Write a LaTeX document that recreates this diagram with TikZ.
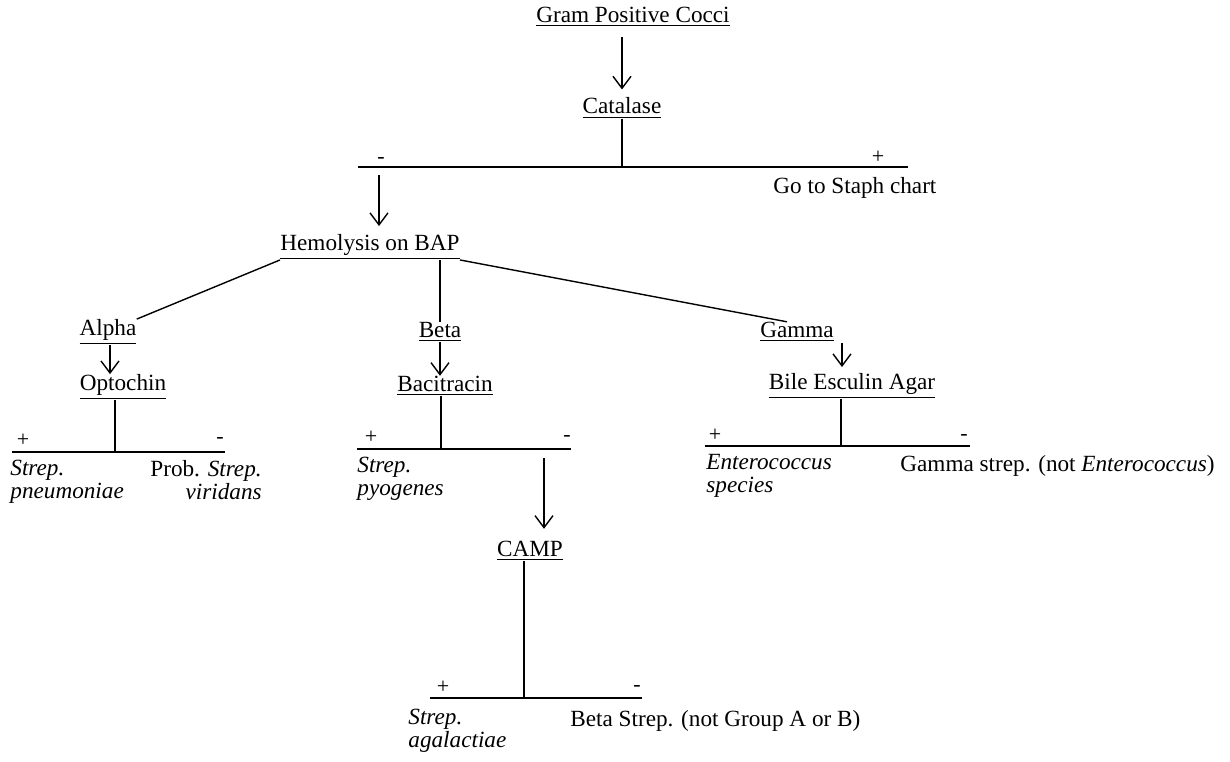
\documentclass[tikz,border=0pt]{standalone}
\usepackage{fontspec}
\setmainfont{Liberation Serif}
\usetikzlibrary{arrows.meta}
\tikzset{
	testname/.style = {inner sep=0pt, font=\fontsize{11.6}{12}\selectfont},% name of a test, underlined
	result/.style = {inner sep=0pt, align=left, anchor=north west,
		font=\fontsize{11.6}{11.6}\selectfont},% outcome of a test
	sign/.style = {inner sep=0pt, font=\fontsize{11}{11}\selectfont},% + or -
	bar/.style = {line width=0.7pt},
	flow/.style = {line width=0.7pt, -{Straight Barb[length=6pt,width=9pt,line width=0.7pt]}}
}
\newcommand{\tname}[1]{\underline{#1}}

\begin{document}
\begin{tikzpicture}[x=0.5pt,y=-0.5pt]
	\useasboundingbox (0,0) rectangle (1230,761);
	% tests
	\node[testname] (gpc) at (633,17) {\tname{Gram Positive Cocci}};
	\node[testname] (catalase) at (622,108) {\tname{Catalase}};
	\node[testname] (hemo) at (370,247) {\tname{Hemolysis on BAP}};
	\node[testname] (alpha) at (108,332) {\tname{Alpha}};
	\node[testname] (beta) at (440,332) {\tname{Beta}};
	\node[testname] (gamma) at (797,332) {\tname{Gamma}};
	\node[testname] (opto) at (123,387) {\tname{Optochin}};
	\node[testname] (baci) at (445,386) {\tname{Bacitracin}};
	\node[testname] (bile) at (852,386) {\tname{Bile Esculin Agar}};
	\node[testname] (camp) at (530,551) {\tname{CAMP}};
	% bars
	\coordinate (catL) at (358,167);
	\coordinate (catR) at (908,167);
	\coordinate (optL) at (12,452);
	\coordinate (optR) at (225,452);
	\coordinate (bacL) at (357,449);
	\coordinate (bacR) at (571,449);
	\coordinate (bilL) at (705,446);
	\coordinate (bilR) at (970,446);
	\coordinate (camL) at (430,698);
	\coordinate (camR) at (642,698);
	\draw[bar] (catL) -- (catR);
	\draw[bar] (optL) -- (optR);
	\draw[bar] (bacL) -- (bacR);
	\draw[bar] (bilL) -- (bilR);
	\draw[bar] (camL) -- (camR);
	% signs
	\node[sign] (catneg) at (381,160) {-};
	\node[sign] (catpos) at (878,157) {+};
	\node[sign] (optpos) at (23,440) {+};
	\node[sign] (optneg) at (220,440) {-};
	\node[sign] (bacpos) at (371,437) {+};
	\node[sign] (bacneg) at (567,438) {-};
	\node[sign] (bilpos) at (715,435) {+};
	\node[sign] (bilneg) at (964,437) {-};
	\node[sign] (campos) at (443,687) {+};
	\node[sign] (camneg) at (637,688) {-};
	% results
	\node[result] (staph) at (773,177) {Go to Staph chart};
	\node[result] (pneumo) at (10,460) {\textit{Strep.}\\\textit{pneumoniae}};
	\node[result, align=right] (viridans) at (150,460) {Prob. \textit{Strep.}\\\textit{viridans}};
	\node[result] (pyo) at (357,457) {\textit{Strep.}\\\textit{pyogenes}};
	\node[result] (entero) at (706,454) {\textit{Enterococcus}\\\textit{species}};
	\node[result] (gstrep) at (900,455) {Gamma strep. (not \textit{Enterococcus})};
	\node[result] (agal) at (408,709) {\textit{Strep.}\\\textit{agalactiae}};
	\node[result] (bstrep) at (570,710) {Beta Strep. (not Group A or B)};
	% connectors
	\coordinate (catout) at (379,175);
	\coordinate (bacout) at (544,458);
	\coordinate (gamout) at (842,343);
	\draw[flow, shorten <=5pt, shorten >=4pt] (gpc.south -| catalase) -- (catalase.north);
	\draw[bar] (catalase) -- (catalase |- catL);
	\draw[flow, shorten >=4pt] (catout) -- (catout |- hemo.north);
	\draw[bar] (hemo.south west) -- (alpha.north east);
	\draw[bar] (beta.north) -- (beta.north |- hemo.south);
	\draw[bar] (hemo.south east) -- (gamma.north -| 787,0);
	\draw[flow] (alpha.south -| 110,0) -- (opto.north -| 110,0);
	\draw[flow] (beta.south) -- (beta.south |- baci.north);
	\draw[flow, shorten >=3pt] (gamout) -- (gamout |- bile.north);
	\draw[bar] (opto.south -| 115,0) -- (optL -| 115,0);
	\draw[bar] (baci.south -| 441,0) -- (bacL -| 441,0);
	\draw[bar] (bile.south -| 841,0) -- (bilL -| 841,0);
	\draw[flow, shorten >=6pt] (bacout) -- (bacout |- camp.north);
	\draw[bar] (camp.south -| 524,0) -- (camL -| 524,0);
\end{tikzpicture}
\end{document}
